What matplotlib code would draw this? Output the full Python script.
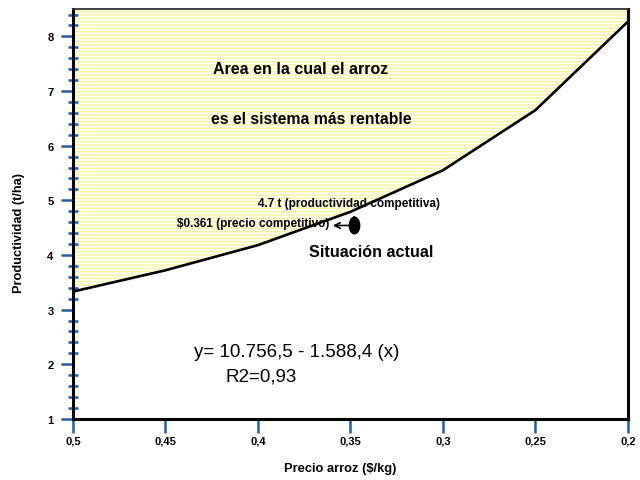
import matplotlib
matplotlib.use("Agg")
import matplotlib.pyplot as plt
from matplotlib.path import Path
from matplotlib.transforms import Affine2D
from matplotlib.ticker import FixedLocator, MultipleLocator

plt.rcParams['font.family'] = ['Liberation Sans', 'DejaVu Sans']
plt.rcParams['hatch.linewidth'] = 0.9

precio = [0.5, 0.45, 0.4, 0.35, 0.3, 0.25, 0.2]
productividad = [3.33, 3.72, 4.18, 4.79, 5.55, 6.65, 8.27]
xtick_vals = [0.5, 0.45, 0.4, 0.35, 0.3, 0.25, 0.2]
xtick_labels = ["0,5", "0,45", "0,4", "0,35", "0,3", "0,25", "0,2"]
ytick_vals = [1, 2, 3, 4, 5, 6, 7, 8]
actual_x, actual_y = 0.348, 4.54
precio_comp = 0.361

fig = plt.figure(figsize=(6.4, 4.81), dpi=100)
ax = fig.add_axes([0.114, 0.127, 0.867, 0.852])

ax.fill_between(precio, productividad, 8.5, facecolor='#ffffee',
                edgecolor='#f8f2a0', hatch='-----', linewidth=0)
ax.plot(precio, productividad, color='black', lw=1.9)

# tall oval marker for the current situation
oval = Path.unit_circle().transformed(Affine2D().scale(0.62, 1.0))
ax.plot(actual_x, actual_y, marker=oval, color='black', markersize=12)
ax.annotate("", xy=(precio_comp, actual_y), xytext=(actual_x, actual_y),
            arrowprops=dict(arrowstyle='->', color='black', lw=1.2))
ax.annotate("", xy=(actual_x, 4.78), xytext=(actual_x, actual_y),
            arrowprops=dict(arrowstyle='->', color='black', lw=1.2))

ax.text(0.351, 4.96, "4.7 t (productividad competitiva)", fontsize=8.5,
        fontweight='bold', ha='center', va='center')
ax.text(0.3615, 4.59, "$0.361 (precio competitivo)", fontsize=8.5,
        fontweight='bold', ha='right', va='center')
ax.text(0.339, 4.06, "Situación actual", fontsize=11.6,
        fontweight='bold', ha='center', va='center')
ax.text(0.377, 7.41, "Area en la cual el arroz", fontsize=11.5,
        fontweight='bold', ha='center', va='center')
ax.text(0.371, 6.50, "es el sistema más rentable", fontsize=11.4,
        fontweight='bold', ha='center', va='center')
ax.text(0.379, 2.23, "y= 10.756,5 - 1.588,4 (x)", fontsize=13.5,
        ha='center', va='center')
ax.text(0.398, 1.79, "R2=0,93", fontsize=13.5, ha='center', va='center')

ax.set_xlim(0.5, 0.2)
ax.set_ylim(1, 8.5)
ax.xaxis.set_major_locator(FixedLocator(xtick_vals))
ax.set_xticklabels(xtick_labels)
ax.yaxis.set_major_locator(FixedLocator(ytick_vals))
ax.yaxis.set_minor_locator(MultipleLocator(0.2))

ax.tick_params(axis='y', which='major', direction='out', length=9,
               width=1.8, color='#1f5fa8', labelsize=8, pad=5)
ax.tick_params(axis='y', which='minor', direction='inout', length=7,
               width=1.8, color='#1f5fa8')
ax.tick_params(axis='x', which='major', direction='out', length=10,
               width=1.8, color='#1f5fa8', labelsize=8, pad=2)
for lbl in ax.get_xticklabels() + ax.get_yticklabels():
    lbl.set_fontweight('bold')

for side in ['left', 'bottom', 'right']:
    ax.spines[side].set_linewidth(2.2)
ax.spines['top'].set_linewidth(1.3)
ax.spines['top'].set_color('#333333')

ax.set_xlabel("Precio arroz ($/kg)", fontsize=9.3, fontweight='bold', labelpad=12)
ax.xaxis.set_label_coords(0.481, -0.105)
ax.set_ylabel("Productividad (t/ha)", fontsize=9.2, fontweight='bold')
ax.yaxis.set_label_coords(-0.086, 0.456)

fig.savefig("out.png", dpi=100)
